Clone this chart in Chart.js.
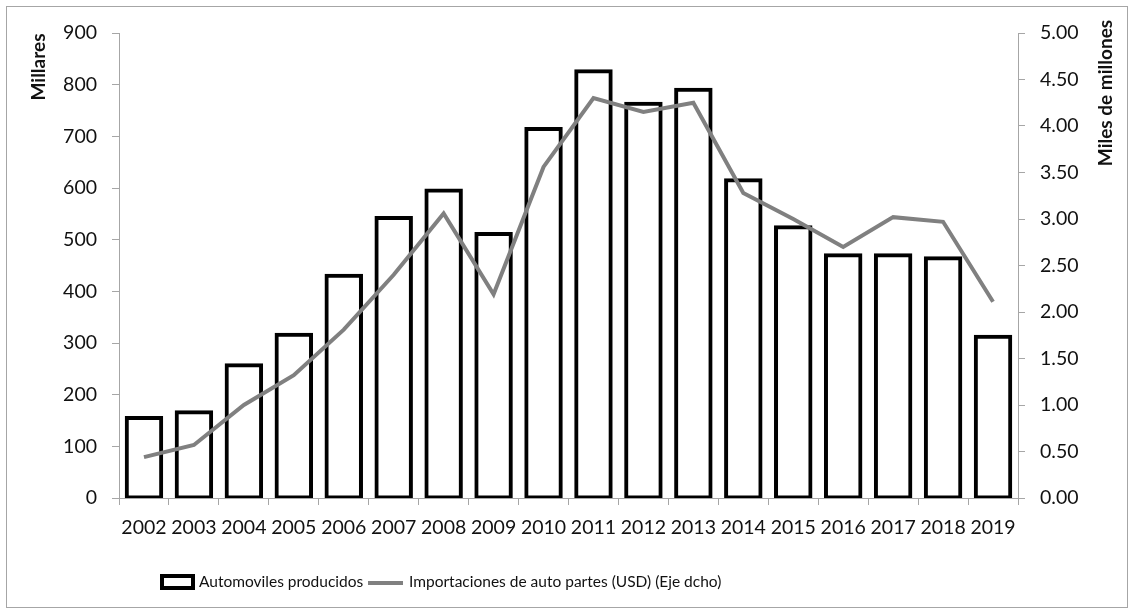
<!DOCTYPE html>
<html>
<head>
<meta charset="utf-8">
<script src="https://cdn.jsdelivr.net/npm/chart.js@4"></script>
<style>
  html, body { margin: 0; padding: 0; background: #ffffff; }
  #wrap { width: 1128px; height: 608px; position: relative; }
</style>
</head>
<body>
<div id="wrap"><canvas id="c" width="1128" height="608"></canvas></div>
<script>
// Años
const years = ['2002','2003','2004','2005','2006','2007','2008','2009','2010',
               '2011','2012','2013','2014','2015','2016','2017','2018','2019'];

// Automóviles producidos (millares)
const produccion = [155, 166, 257, 316, 430, 542, 595, 511, 714,
                    826, 763, 790, 615, 524, 470, 470, 464, 312];

// Importaciones de auto partes (miles de millones USD)
const importaciones = [0.44, 0.57, 1.00, 1.32, 1.81, 2.40, 3.06, 2.19, 3.56,
                       4.30, 4.15, 4.25, 3.28, 3.00, 2.70, 3.02, 2.97, 2.11];

const serieBarras = 'Automoviles producidos';
const serieLinea = 'Importaciones de auto partes (USD) (Eje dcho)';
const tituloIzq = 'Millares';
const tituloDer = 'Miles de millones';

const FONT = 'Lato, "Open Sans", sans-serif';
const AXIS_GRAY = '#a6a6a6';
const TEXT = '#111111';

// Marco, títulos de ejes y leyenda
const decor = {
  id: 'decor',
  beforeDraw(chart) {
    const ctx = chart.ctx;
    ctx.save();
    ctx.strokeStyle = '#a6a6a6';
    ctx.lineWidth = 1;
    ctx.strokeRect(6.5, 6.5, 1121, 601);
    ctx.restore();
  },
  afterDraw(chart) {
    const ctx = chart.ctx;
    const ds = chart.data.datasets;
    ctx.save();
    ctx.fillStyle = TEXT;
    ctx.font = 'bold 19px ' + FONT;
    ctx.textAlign = 'center';
    ctx.textBaseline = 'middle';
    // Título eje izquierdo
    ctx.save();
    ctx.translate(39, 67);
    ctx.rotate(-Math.PI / 2);
    ctx.fillText(tituloIzq, 0, 0);
    ctx.restore();
    // Título eje derecho
    ctx.save();
    ctx.translate(1106, 93);
    ctx.rotate(-Math.PI / 2);
    ctx.fillText(tituloDer, 0, 0);
    ctx.restore();

    // Leyenda
    const ly = 582;
    ctx.font = '15.5px ' + FONT;
    ctx.textAlign = 'left';
    // caja de barras
    ctx.fillStyle = ds[0].borderColor;
    ctx.fillRect(160, ly - 8, 35, 16);
    ctx.fillStyle = '#ffffff';
    ctx.fillRect(164, ly - 4, 27, 8);
    ctx.fillStyle = TEXT;
    ctx.fillText(ds[0].label, 199, ly);
    // línea
    ctx.strokeStyle = ds[1].borderColor;
    ctx.lineWidth = ds[1].borderWidth;
    ctx.beginPath();
    ctx.moveTo(368, ly + 1);
    ctx.lineTo(403, ly + 1);
    ctx.stroke();
    ctx.fillText(ds[1].label, 409, ly);
    ctx.restore();
  }
};

new Chart(document.getElementById('c'), {
  data: {
    labels: years,
    datasets: [
      {
        type: 'bar',
        label: serieBarras,
        data: produccion,
        yAxisID: 'y',
        backgroundColor: '#ffffff',
        borderColor: '#000000',
        borderWidth: 4,
        inflateAmount: 2,
        borderSkipped: false,
        categoryPercentage: 1.0,
        barPercentage: 0.69,
        order: 2
      },
      {
        type: 'line',
        label: serieLinea,
        data: importaciones,
        yAxisID: 'y2',
        borderColor: '#808080',
        borderWidth: 4,
        pointRadius: 0,
        tension: 0,
        fill: false,
        order: 1
      }
    ]
  },
  options: {
    responsive: false,
    animation: false,
    devicePixelRatio: 1,
    layout: { padding: { top: 33, left: 0, right: 0, bottom: 0 } },
    plugins: {
      legend: { display: false },
      tooltip: { enabled: false }
    },
    scales: {
      x: {
        type: 'category',
        offset: true,
        afterFit(s) { s.height = 110; },
        grid: {
          offset: true,
          drawOnChartArea: false,
          drawTicks: true,
          tickLength: 7,
          color: AXIS_GRAY
        },
        border: { color: AXIS_GRAY, width: 1 },
        ticks: {
          color: TEXT,
          font: { family: FONT, size: 19.5 },
          padding: 11,
          maxRotation: 0,
          autoSkip: false
        }
      },
      y: {
        position: 'left',
        min: 0,
        max: 900,
        afterFit(s) { s.width = 119; },
        grid: {
          drawOnChartArea: false,
          drawTicks: true,
          tickLength: 7,
          color: AXIS_GRAY
        },
        border: { color: AXIS_GRAY, width: 1 },
        ticks: {
          stepSize: 100,
          color: TEXT,
          font: { family: FONT, size: 19.5 },
          padding: 15
        }
      },
      y2: {
        position: 'right',
        min: 0,
        max: 5,
        afterFit(s) { s.width = 110; },
        grid: {
          drawOnChartArea: false,
          drawTicks: true,
          tickLength: 7,
          color: AXIS_GRAY
        },
        border: { color: AXIS_GRAY, width: 1 },
        ticks: {
          stepSize: 0.5,
          color: TEXT,
          font: { family: FONT, size: 19.5 },
          padding: 15,
          callback: (v) => Number(v).toFixed(2)
        }
      }
    }
  },
  plugins: [decor]
});
</script>
</body>
</html>
